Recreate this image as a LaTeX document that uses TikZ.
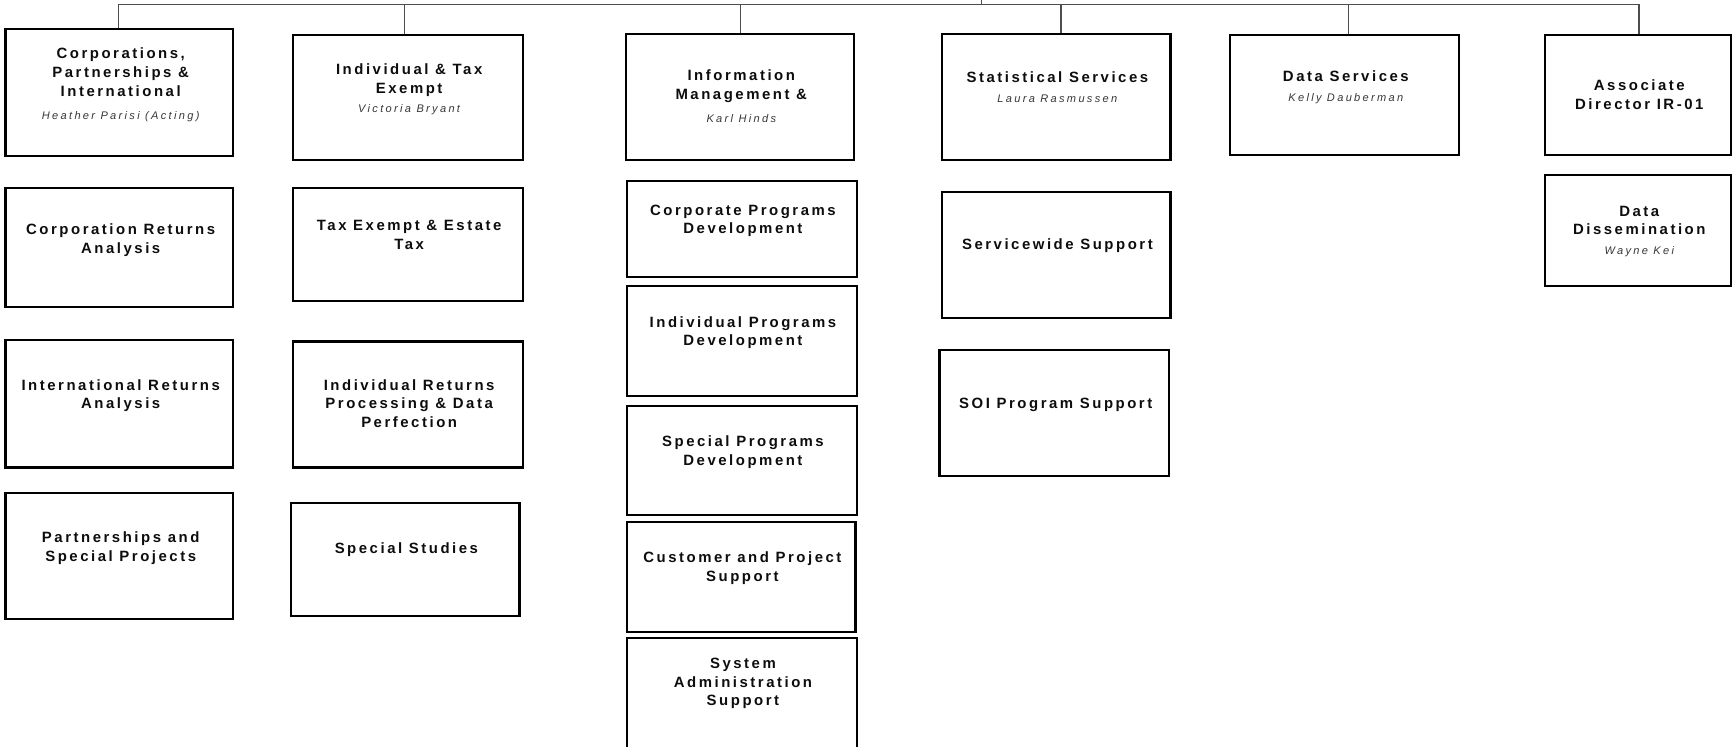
\documentclass[tikz,border=0pt]{standalone}
\usepackage{fontspec}
\setmainfont{Liberation Sans}
\newfontfamily\titlefont[LetterSpace=17]{Liberation Sans}
\newfontfamily\namefont[LetterSpace=21]{Liberation Sans}
\definecolor{tcol}{HTML}{0D0D0D}
\definecolor{ncol}{HTML}{363636}
\definecolor{barcol}{HTML}{4D4D4D}
\begin{document}
\begin{tikzpicture}[x=1pt,y=-1pt,
  box/.style={draw=black,line width=1.9pt,inner sep=0pt},
  ttl/.style={anchor=north,inner sep=0pt,align=center,text=tcol,font=\titlefont\bfseries\fontsize{13.5}{17}\selectfont},
  nm/.style={anchor=base,inner sep=0pt,text=ncol,font=\namefont\itshape\fontsize{10}{11}\selectfont},
  link/.style={draw=barcol,line width=1.1pt}]
\useasboundingbox (0,0) rectangle (1568,675);
\clip (0,0) rectangle (1568,675);
% boxes
\node[box,minimum width=206pt,minimum height=115pt] (A1) at (108,83.5) {};
\node[box,minimum width=206pt,minimum height=108pt] (A2) at (108,224) {};
\node[box,minimum width=206pt,minimum height=115pt] (A3) at (108,365.5) {};
\node[box,minimum width=206pt,minimum height=114pt] (A4) at (108,503) {};
\node[box,minimum width=208pt,minimum height=113pt] (B1) at (369,88.5) {};
\node[box,minimum width=208pt,minimum height=102pt] (B2) at (369,221) {};
\node[box,minimum width=208pt,minimum height=114pt] (B3) at (369,366) {};
\node[box,minimum width=207pt,minimum height=102pt] (B4) at (366.5,506) {};
\node[box,minimum width=207pt,minimum height=114pt] (C1) at (669.5,88) {};
\node[box,minimum width=208pt,minimum height=87pt] (C2) at (671,207.5) {};
\node[box,minimum width=208pt,minimum height=99pt] (C3) at (671,308.5) {};
\node[box,minimum width=208pt,minimum height=99pt] (C4) at (671,416.5) {};
\node[box,minimum width=207pt,minimum height=100pt] (C5) at (670.5,522) {};
\node[box,minimum width=208pt,minimum height=113pt] (C6) at (671,633.5) {};
\node[box,minimum width=207pt,minimum height=114pt] (D1) at (955.5,88) {};
\node[box,minimum width=207pt,minimum height=114pt] (D2) at (955.5,231) {};
\node[box,minimum width=208pt,minimum height=114pt] (D3) at (954,374) {};
\node[box,minimum width=207pt,minimum height=108pt] (E1) at (1216.5,86) {};
\node[box,minimum width=168pt,minimum height=108pt] (F1) at (1482,86) {};
\node[box,minimum width=168pt,minimum height=101pt] (F2) at (1482,208.5) {};
% titles
\node[ttl] (A1t) at (109.2,43) {Corporations,\\Partnerships \&\\International};
\node[ttl] (A2t) at (109.2,202) {Corporation Returns\\Analysis};
\node[ttl] (A3t) at (109.2,343) {International Returns\\Analysis};
\node[ttl] (A4t) at (109.2,481) {Partnerships and\\Special Projects};
\node[ttl] (B1t) at (370.2,57.5) {Individual \& Tax\\Exempt};
\node[ttl] (B2t) at (370.2,199) {Tax Exempt \& Estate\\Tax};
\node[ttl] (B3t) at (370.2,343) {Individual Returns\\Processing \& Data\\Perfection};
\node[ttl] (B4t) at (367.7,491) {Special Studies};
\node[ttl] (C1t) at (670.7,63) {Information\\Management \&};
\node[ttl] (C2t) at (672.2,185) {Corporate Programs\\Development};
\node[ttl] (C3t) at (672.2,286) {Individual Programs\\Development};
\node[ttl] (C4t) at (672.2,394) {Special Programs\\Development};
\node[ttl] (C5t) at (671.7,499) {Customer and Project\\Support};
\node[ttl] (C6t) at (672.2,595) {System\\Administration\\Support};
\node[ttl] (D1t) at (956.7,65) {Statistical Services};
\node[ttl] (D2t) at (956.7,216) {Servicewide Support};
\node[ttl] (D3t) at (955.2,360) {SOI Program Support};
\node[ttl] (E1t) at (1217.7,64) {Data Services};
\node[ttl] (F1t) at (1483.2,72) {Associate\\Director IR-01};
\node[ttl] (F2t) at (1483.2,186) {Data\\Dissemination};
% names
\node[nm] (A1n) at (109.2,108) {Heather Parisi (Acting)};
\node[nm] (B1n) at (370.2,102) {Victoria Bryant};
\node[nm] (C1n) at (670.7,111) {Karl Hinds};
\node[nm] (D1n) at (956.7,93) {Laura Rasmussen};
\node[nm] (E1n) at (1217.7,92) {Kelly Dauberman};
\node[nm] (F2n) at (1483.2,230.5) {Wayne Kei};
% connectors
\coordinate (top) at (888,0);
\coordinate (j) at (888,4);
\coordinate (dA) at (107,4);
\coordinate (dB) at (366,4);
\coordinate (dC) at (670,4);
\coordinate (dD) at (960,4);
\coordinate (dE) at (1220,4);
\coordinate (dF) at (1483,4);
\draw[link] (top) -- (j);
\draw[link] (dA) -- (dF);
\draw[link] (dA) -- (dA |- A1.north);
\draw[link] (dB) -- (dB |- B1.north);
\draw[link] (dC) -- (dC |- C1.north);
\draw[link] (dD) -- (dD |- D1.north);
\draw[link] (dE) -- (dE |- E1.north);
\draw[link] (dF) -- (dF |- F1.north);
\end{tikzpicture}
\end{document}
